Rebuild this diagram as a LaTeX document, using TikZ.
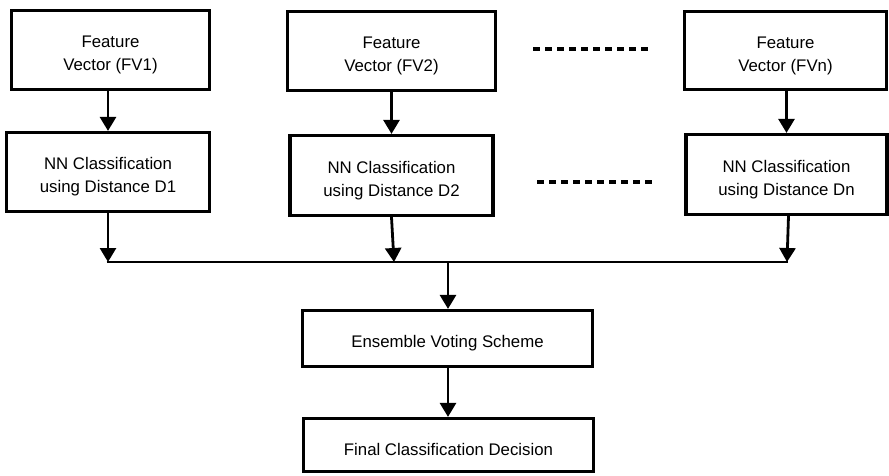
\documentclass[tikz,border=0pt]{standalone}
\usepackage{fontspec}
\setmainfont{Liberation Sans}
\usetikzlibrary{arrows.meta}
\newcommand\txtup{\rule{0pt}{21.5pt}}
\begin{document}
\begin{tikzpicture}[x=1pt,y=-1pt,
  box/.style={draw, line width=3.2pt, align=center, inner sep=0pt,
    font=\fontsize{16.8}{23}\selectfont},
  arr/.style={line width=2.8pt, -{Triangle[width=16pt,length=14pt]}},
  bus/.style={line width=2.8pt},
  dotline/.style={line width=3.2pt, dash pattern=on 7pt off 5pt}]
\useasboundingbox (0,0) rectangle (889,475);
% top row
\node[box, minimum width=198pt, minimum height=79pt] (fv1) at (110.5,50) {\txtup Feature\\Vector (FV1)};
\node[box, minimum width=208pt, minimum height=79pt] (fv2) at (391.5,51) {\txtup Feature\\Vector (FV2)};
\node[box, minimum width=202pt, minimum height=78pt] (fvn) at (785.5,50.5) {\txtup Feature\\Vector (FVn)};
% second row
\node[box, minimum width=203pt, minimum height=79pt] (nn1) at (108,172) {\txtup NN Classification\\using Distance D1};
\node[box, minimum width=203pt, minimum height=80pt] (nn2) at (391.5,175.5) {\txtup NN Classification\\using Distance D2};
\node[box, minimum width=201pt, minimum height=80pt] (nnn) at (786.5,174.5) {\txtup NN Classification\\using Distance Dn};
% lower boxes
\node[box, minimum width=290pt, minimum height=56pt] (ens) at (447.5,338.5) {\txtup Ensemble Voting Scheme};
\node[box, minimum width=290pt, minimum height=53pt] (fin) at (448.5,445) {\txtup Final Classification Decision};
% dotted separators
\coordinate (d1a) at (533,49);
\coordinate (d1b) at (648,49);
\coordinate (d2a) at (537,182);
\coordinate (d2b) at (652,182);
\draw[dotline] (d1a) -- (d1b);
\draw[dotline] (d2a) -- (d2b);
% bus junctions
\coordinate (j1) at (108,262);
\coordinate (j2) at (394,262);
\coordinate (jn) at (787,262);
\coordinate (jc) at (448,262);
% arrows
\draw[arr] (fv1.south -| nn1.north) -- (nn1.north);
\draw[arr] (fv2.south -| nn2.north) -- (nn2.north);
\draw[arr] (fvn.south -| nnn.north) -- (nnn.north);
\draw[arr] (nn1.south) -- (j1);
\draw[arr] (nn2.south) -- (j2);
\draw[arr] ([xshift=2pt]nnn.south) -- (jn);
\draw[bus] ([xshift=-1.4pt]j1) -- ([xshift=1.4pt]jn);
\draw[arr] (jc) -- (jc |- ens.north);
\draw[arr] (ens.south -| jc) -- (jc |- fin.north);
\end{tikzpicture}
\end{document}
